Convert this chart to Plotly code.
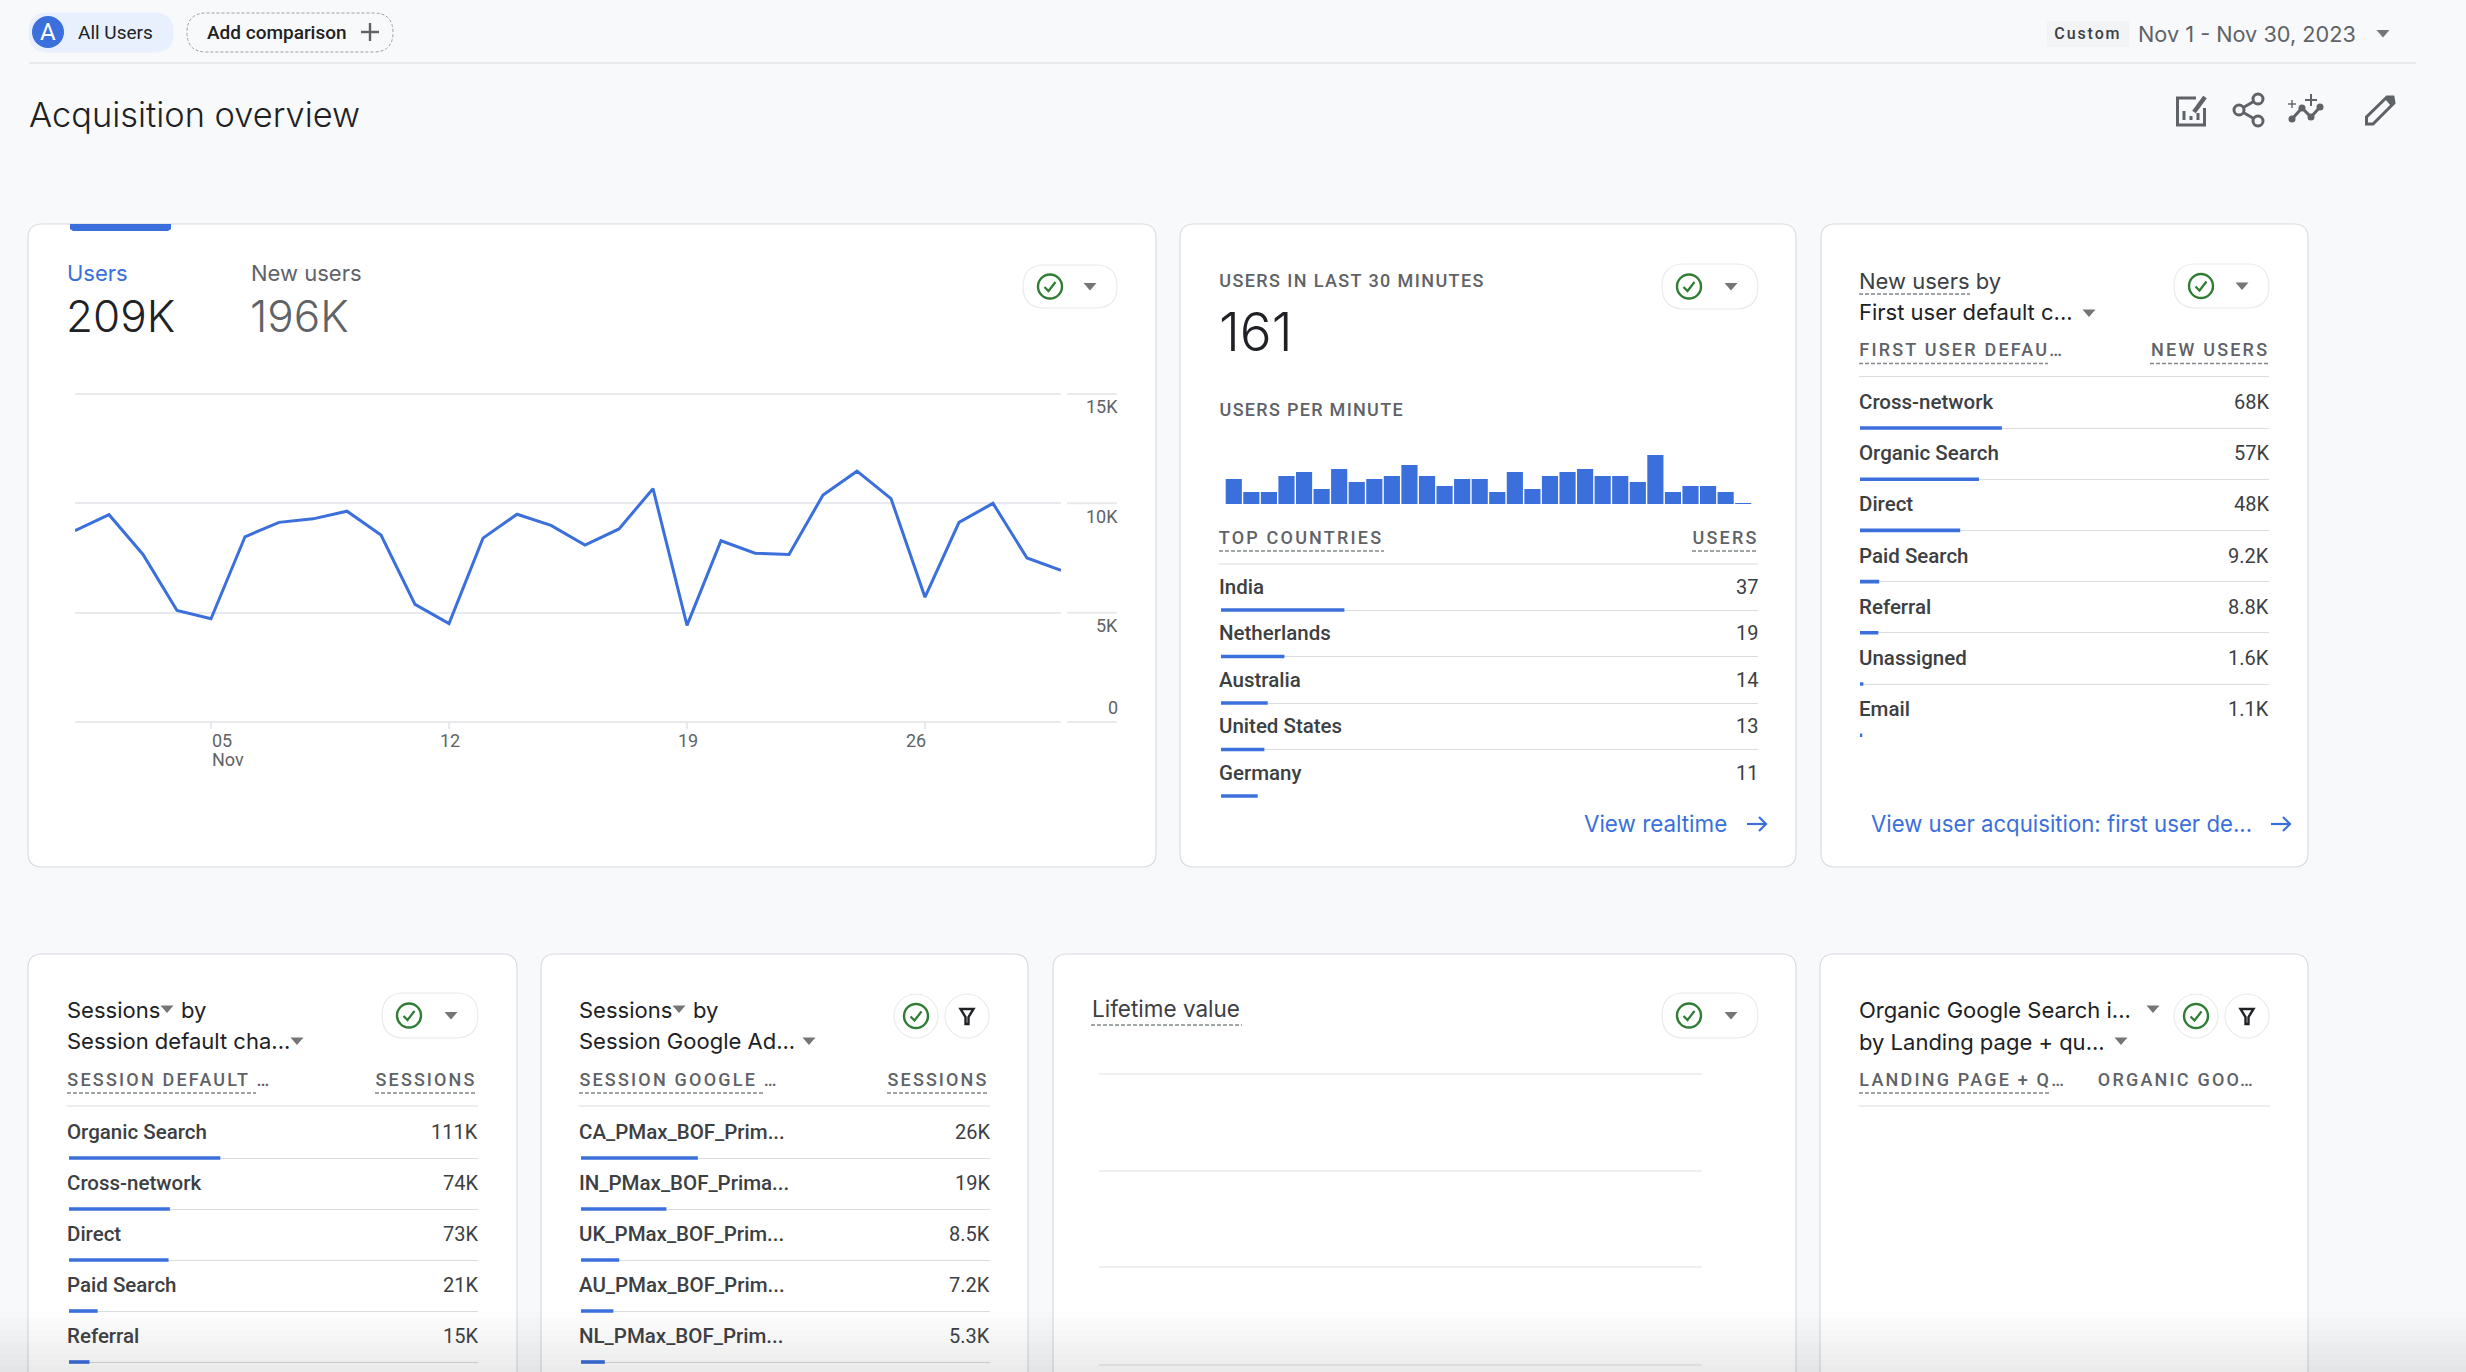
import plotly.graph_objects as go

W, H = 2466, 1372

# ---- data ----
days = list(range(1, 31))
users_daily = [8750, 9480, 7660, 5100, 4720, 8470, 9130, 9290, 9640, 8550,
               5380, 4500, 8410, 9500, 8990, 8090, 8830, 10670, 4420, 8290,
               7720, 7660, 10380, 11470, 10220, 5710, 9130, 10000, 7500, 6940]
users_ticks = [0, 5000, 10000, 15000]
users_tick_labels = ['0', '5K', '10K', '15K']
day_ticks = [5, 12, 19, 26]
day_tick_labels = ['05', '12', '19', '26']

minutes = list(range(30))
users_per_minute = [7.5, 3.6, 3.6, 8.4, 9.6, 4.5, 10.5, 6.6, 7.5, 8.4,
                    11.7, 8.4, 5.4, 7.5, 7.5, 3.6, 9.6, 4.5, 8.4, 9.6,
                    10.5, 8.4, 8.4, 6.6, 14.7, 3.6, 5.4, 5.4, 3.6, 0.3]

countries = ['India', 'Netherlands', 'Australia', 'United States', 'Germany']
country_users = [37, 19, 14, 13, 11]
country_total = 161

first_channels = ['Cross-network', 'Organic Search', 'Direct', 'Paid Search', 'Referral', 'Unassigned', 'Email']
first_channel_new_users = [68000, 57000, 48000, 9200, 8800, 1600, 1100]
new_users_total = 196000

session_channels = ['Organic Search', 'Cross-network', 'Direct', 'Paid Search', 'Referral']
session_channel_values = [111000, 74000, 73000, 21000, 15000]
sessions_total = 300000

campaigns = ['CA_PMax_BOF_Prim...', 'IN_PMax_BOF_Prima...', 'UK_PMax_BOF_Prim...', 'AU_PMax_BOF_Prim...', 'NL_PMax_BOF_Prim...']
campaign_sessions = [26000, 19000, 8500, 7200, 5300]
campaign_total = 91000

# ---- colours and fonts ----
BG = '#f8f9fb'
BLUE = '#3b6fdb'
GREY = '#5f6368'
DARK = '#202124'
BODY = '#3c4043'
LINE = '#dadce0'
GRID = '#e8eaed'
GREEN = '#2e7d32'
ROBOTO = 'Roboto, sans-serif'
SANS = 'Inter, sans-serif'
HEAD = 22

# letter spacing in px, applied to these texts once the page has drawn
TRACKED = {'Custom': 1.9, 'USERS IN LAST 30 MINUTES': 1.4, 'USERS PER MINUTE': 1.3,
           'TOP COUNTRIES': 2.2, 'USERS': 2.2, 'FIRST USER DEFAU…': 2.2, 'NEW USERS': 2.2,
           'SESSION DEFAULT …': 2.2, 'SESSIONS': 2.1, 'SESSION GOOGLE …': 2.2,
           'LANDING PAGE + Q…': 2.2, 'ORGANIC GOO…': 2.2}

shapes = []
annotations = []


def X(x):
    return x / W


def Y(y):
    return 1 - y / H


def text(s, x, y, size=18, color=BODY, anchor='left', family=ROBOTO, weight=400):
    # tracked text grows both ways from its middle, so push it back by half the growth
    if anchor == 'left':
        x += len(s) * TRACKED.get(s, 0) / 2
    annotations.append(dict(text=s, x=X(x), y=Y(y), xref='paper', yref='paper', showarrow=False,
                            xanchor=anchor, yanchor='middle', borderpad=0, borderwidth=0,
                            font=dict(size=size, color=color, family=family, weight=weight)))


def path(points, color=None, width=2, fill=None, close=False, dash=None, layer='below'):
    d = 'M' + ' L'.join(f'{X(px)},{Y(py)}' for px, py in points) + (' Z' if close else '')
    shapes.append(dict(type='path', path=d, xref='paper', yref='paper', layer=layer,
                       line=dict(color=color or 'rgba(0,0,0,0)', width=width, dash=dash),
                       fillcolor=fill or 'rgba(0,0,0,0)'))


def rounded(x0, y0, x1, y1, r, color=LINE, fill='white', width=1.2, dash=None):
    d = (f'M{X(x0 + r)},{Y(y0)} L{X(x1 - r)},{Y(y0)} Q{X(x1)},{Y(y0)} {X(x1)},{Y(y0 + r)} '
         f'L{X(x1)},{Y(y1 - r)} Q{X(x1)},{Y(y1)} {X(x1 - r)},{Y(y1)} L{X(x0 + r)},{Y(y1)} '
         f'Q{X(x0)},{Y(y1)} {X(x0)},{Y(y1 - r)} L{X(x0)},{Y(y0 + r)} Q{X(x0)},{Y(y0)} {X(x0 + r)},{Y(y0)} Z')
    shapes.append(dict(type='path', path=d, xref='paper', yref='paper', layer='below',
                       line=dict(color=color, width=width, dash=dash), fillcolor=fill))


def circle(cx, cy, r, color=None, fill=None, width=2):
    shapes.append(dict(type='circle', xref='paper', yref='paper', layer='below',
                       x0=X(cx - r), x1=X(cx + r), y0=Y(cy + r), y1=Y(cy - r),
                       line=dict(color=color or 'rgba(0,0,0,0)', width=width),
                       fillcolor=fill or 'rgba(0,0,0,0)'))


def hline(x0, x1, y, color=LINE, width=1.2, dash=None):
    path([(x0, y), (x1, y)], color=color, width=width, dash=dash)


def triangle(cx, cy, half=6.5, color='#757575'):
    path([(cx - half, cy - 3.5), (cx + half, cy - 3.5), (cx, cy + 4)], fill=color, close=True, width=0)


def check(cx, cy):
    circle(cx, cy, 12, color=GREEN, width=2.4)
    path([(cx - 5.5, cy + 0.5), (cx - 1.5, cy + 4.5), (cx + 5.5, cy - 4.5)], color=GREEN, width=2.2)


def status_pill(x0, x1, y0, y1):
    rounded(x0, y0, x1, y1, (y1 - y0) / 2, color=GRID)
    check(x0 + 27, (y0 + y1) / 2)
    triangle(x1 - 27, (y0 + y1) / 2)


def round_buttons(cx_check, cx_filter, cy):
    circle(cx_check, cy, 22, color=GRID, fill='white', width=1.2)
    check(cx_check, cy)
    circle(cx_filter, cy, 22, color=GRID, fill='white', width=1.2)
    path([(cx_filter - 6.5, cy - 7), (cx_filter + 6.5, cy - 7), (cx_filter + 1.5, cy + 1),
          (cx_filter + 1.5, cy + 8), (cx_filter - 1.5, cy + 8), (cx_filter - 1.5, cy + 1)],
         color=DARK, width=2.4, close=True)


def arrow(x0, x1, y):
    path([(x0, y), (x1, y)], color=BLUE, width=2.2)
    path([(x1 - 7, y - 7), (x1, y), (x1 - 7, y + 7)], color=BLUE, width=2.2)


def fmt_k(v):
    return f'{v / 1000:.0f}K' if v >= 10000 else f'{v / 1000:.1f}K'


fig = go.Figure()

# ---- page header ----
hline(29, 2416, 63, color=LINE)
rounded(29, 13, 173, 52, 19.5, color='#e8f0fe', fill='#e8f0fe')
circle(48, 32, 16, fill=BLUE, width=0)
text('A', 48, 32, size=24, color='white', anchor='center')
text('All Users', 77.5, 32.5, size=19, color=DARK)
rounded(187, 13, 393, 52, 19.5, color='#9aa0a6', fill='rgba(0,0,0,0)', width=1, dash='3px,2px')
text('Add comparison', 206.5, 32, size=19, color=DARK, weight=500)
hline(361, 379, 32, color=GREY, width=2.4)
path([(370, 23), (370, 41)], color=GREY, width=2.4)
shapes.append(dict(type='rect', xref='paper', yref='paper', layer='below', x0=X(2047), x1=X(2129),
                   y0=Y(47), y1=Y(21), fillcolor='#f1f3f4', line=dict(width=0)))
text('Custom', 2054, 33.5, size=16, color=BODY, weight=500)
text('Nov 1 - Nov 30, 2023', 2138, 34, size=21.7, color=GREY, family=SANS)
triangle(2383, 33.5)
text('Acquisition overview', 29, 115, size=34.4, color=DARK, family=SANS, weight=300)

# toolbar icons
path([(2196, 98), (2177.5, 98), (2177.5, 125), (2204.5, 125), (2204.5, 108)], color=GREY, width=3)
for bx, by in [(2184, 111), (2191, 116), (2198, 113)]:
    path([(bx, by), (bx, 120)], color=GREY, width=3)
path([(2194, 112), (2205, 97)], color=GREY, width=4.5)
path([(2258, 99), (2239, 110), (2258, 121)], color=GREY, width=3)
for cx, cy in [(2258, 99), (2239, 110), (2258, 121)]:
    circle(cx, cy, 5, color=GREY, fill=BG, width=3)
path([(2292, 119), (2302, 108), (2311, 117), (2320, 107)], color=GREY, width=3)
for cx, cy in [(2292, 119), (2302, 108), (2311, 117), (2320, 107)]:
    circle(cx, cy, 3.5, fill=GREY, width=0)
path([(2288, 104), (2296, 104)], color=GREY, width=1.4)
path([(2292, 100), (2292, 108)], color=GREY, width=1.4)
path([(2305, 100), (2317, 100)], color=GREY, width=2)
path([(2311, 94), (2311, 106)], color=GREY, width=2)
path([(2366.5, 124), (2366.5, 117), (2387, 97), (2393, 97), (2394, 103), (2373, 124)], color=GREY, width=3, close=True)
path([(2385, 99), (2390, 96), (2394, 100), (2391, 106)], fill=GREY, close=True, width=0)

# ---- cards ----
for x0, y0, x1, y1 in [(28, 224, 1156, 867), (1180, 224, 1796, 867), (1821, 224, 2308, 867),
                       (28, 954, 517, 1400), (541, 954, 1028, 1400), (1053, 954, 1796, 1400),
                       (1820, 954, 2308, 1400)]:
    rounded(x0, y0, x1, y1, 14)

# ---- users card ----
path([(70, 224), (171, 224), (171, 229), (168, 231), (73, 231), (70, 229)], fill=BLUE, close=True, width=0)
text('Users', 67, 273, size=HEAD, color=BLUE, family=SANS)
text('New users', 251, 273, size=HEAD, color=GREY, family=SANS)
text('209K', 65.5, 316, size=44, color=DARK, family=SANS, weight=300)
text('196K', 250, 316, size=44, color=GREY, family=SANS, weight=300)
status_pill(1023, 1117, 265, 308)

fig.add_trace(go.Scatter(x=days, y=users_daily, mode='lines', line=dict(color=BLUE, width=3),
                         xaxis='x', yaxis='y', showlegend=False))
# range runs a little past 0 and 15K, plotly drops gridlines that sit on the very edge
fig.update_layout(
    xaxis=dict(domain=[X(75), X(1061)], range=[1, 30], tickvals=day_ticks, ticks='outside', ticklen=6,
               tickcolor=GRID, tickwidth=1.5, showticklabels=False, showgrid=False, zeroline=False,
               anchor='free', position=Y(722)),
    yaxis=dict(domain=[Y(722 + 328 / 30), Y(394 - 328 / 30)], range=[-500, 15500], tickvals=users_ticks,
               showticklabels=False, gridcolor=GRID, gridwidth=2, zeroline=False, anchor='x'),
)
for value, label in zip(users_ticks, users_tick_labels):
    shapes.append(dict(type='line', xref='paper', yref='y', x0=X(1067), x1=X(1117), y0=value, y1=value,
                       layer='below', line=dict(color=GRID, width=2)))
    annotations.append(dict(text=label, xref='paper', yref='y', x=X(1118), y=value, showarrow=False,
                            xanchor='right', yanchor='middle', yshift=14 if value == 0 else -13,
                            borderwidth=0, borderpad=0, font=dict(size=18, color=GREY, family=ROBOTO)))
for day, label, anchor in zip(day_ticks, day_tick_labels, ['left', 'center', 'center', 'right']):
    annotations.append(dict(text=label, xref='x', yref='paper', x=day, y=Y(740), showarrow=False,
                            xanchor=anchor, yanchor='middle', borderwidth=0, borderpad=0, xshift=1,
                            font=dict(size=18, color=GREY, family=ROBOTO)))
annotations.append(dict(text='Nov', xref='x', yref='paper', x=day_ticks[0], y=Y(759), showarrow=False,
                        xanchor='left', yanchor='middle', borderwidth=0, borderpad=0, xshift=1,
                        font=dict(size=18, color=GREY, family=ROBOTO)))

# ---- realtime card ----
text('USERS IN LAST 30 MINUTES', 1219, 280, size=18, color=GREY, weight=500)
text('161', 1219, 332, size=53, color=DARK, family=SANS, weight=300)
status_pill(1662, 1758, 264, 309)
text('USERS PER MINUTE', 1219.5, 409, size=18, color=GREY, weight=500)
fig.add_trace(go.Bar(x=minutes, y=users_per_minute, marker=dict(color=BLUE, line=dict(width=0)),
                     xaxis='x2', yaxis='y2', showlegend=False))
fig.update_layout(
    bargap=0.08,
    xaxis2=dict(domain=[X(1225), X(1752)], range=[-0.5, 29.5], visible=False, anchor='y2'),
    yaxis2=dict(domain=[Y(504), Y(454)], range=[0, 15], visible=False, anchor='x2'),
)


def add_table(n, labels, values, shown, total, x0, x1, first_y, pitch, text_offset, last_line, label_x):
    # one small axis pair per table: the bars are each row's share of the total
    axis = '' if n == 1 else str(n)
    rows = list(range(len(labels)))
    fig.add_trace(go.Bar(x=values, y=rows, orientation='h', width=3.6 / pitch, marker=dict(color=BLUE, line=dict(width=0)),
                         xaxis=f'x{axis}', yaxis=f'y{axis}', showlegend=False))
    top = first_y - pitch / 2
    bottom = min(first_y + pitch * (len(labels) - 0.5), H)
    fig.update_layout(**{
        f'xaxis{axis}': dict(domain=[X(x0), X(x1)], range=[0, total], visible=False, anchor=f'y{axis}'),
        f'yaxis{axis}': dict(domain=[Y(bottom), Y(top)], range=[(bottom - first_y) / pitch, -0.5], anchor=f'x{axis}',
                             tickvals=rows if last_line else rows[:-1], showticklabels=False,
                             gridcolor=LINE, gridwidth=1.2, zeroline=False, showline=False, ticks=''),
    })
    for row, label, value in zip(rows, labels, shown):
        y = first_y + row * pitch - text_offset
        text(label, label_x, y, size=20.5, color=BODY, weight=500)
        text(value, x1, y, size=20, color=BODY, anchor='right')


def table_header(left, left_under, right, right_x, right_under, x0, x1, y):
    text(left, x0, y, size=18, color=GREY, weight=500)
    text(right, right_x, y, size=18, color=GREY, weight=500)
    hline(left_under[0], left_under[1], y + 14, color='#80868b', width=1.3, dash='4px,2px')
    if right_under:
        hline(right_under[0], right_under[1], y + 14, color='#80868b', width=1.3, dash='4px,2px')
    hline(x0, x1, y + 27)


table_header('TOP COUNTRIES', (1219, 1384), 'USERS', 1692, (1692, 1758), 1219, 1758, 537)
add_table(3, countries, country_users, [str(v) for v in country_users], country_total,
          1221, 1758, 610, 46.5, 23.5, False, 1219)
text('View realtime', 1584, 824, size=22.4, color=BLUE, family=SANS)
arrow(1747, 1766, 824)

# ---- new users card ----
text('New users by', 1859, 281, size=HEAD, color=BODY, family=SANS)
hline(1859, 1970, 294, color='#80868b', width=1.3, dash='4px,2px')
text('First user default c...', 1859, 312, size=HEAD, color=DARK, family=SANS)
triangle(2089, 313)
status_pill(2174, 2269, 264, 308)
table_header('FIRST USER DEFAU…', (1859, 2048), 'NEW USERS', 2151, (2150, 2269), 1859, 2269, 349.5)
add_table(4, first_channels, first_channel_new_users, [fmt_k(v) for v in first_channel_new_users], new_users_total,
          1860, 2269, 428, 51.2, 26, False, 1859)
text('View user acquisition: first user de...', 1871, 824, size=22.2, color=BLUE, family=SANS)
arrow(2271, 2290, 824)

# ---- sessions by channel card ----
text('Sessions', 67, 1010, size=HEAD, color=DARK, family=SANS)
triangle(167, 1009)
text('by', 181, 1010, size=HEAD, color=DARK, family=SANS)
text('Session default cha...', 67, 1041, size=HEAD, color=DARK, family=SANS)
triangle(297, 1041)
status_pill(382, 478, 993, 1038)
table_header('SESSION DEFAULT …', (67, 256), 'SESSIONS', 376, (375, 477), 67, 478, 1079)
add_table(5, session_channels, session_channel_values, [fmt_k(v) for v in session_channel_values], sessions_total,
          69, 478, 1158, 51, 26, True, 67)

# ---- sessions by campaign card ----
text('Sessions', 579, 1010, size=HEAD, color=DARK, family=SANS)
triangle(679, 1009)
text('by', 693, 1010, size=HEAD, color=DARK, family=SANS)
text('Session Google Ad...', 579, 1041, size=HEAD, color=DARK, family=SANS)
triangle(809, 1041)
round_buttons(916, 967, 1016)
table_header('SESSION GOOGLE …', (579, 764), 'SESSIONS', 888, (887, 989), 579, 990, 1079)
add_table(6, campaigns, campaign_sessions, [fmt_k(v) for v in campaign_sessions], campaign_total,
          581, 990, 1158, 51, 26, True, 579)

# ---- lifetime value card, no data loaded ----
text('Lifetime value', 1092, 1009, size=22.5, color=BODY, family=SANS)
hline(1091, 1242, 1025, color='#80868b', width=1.3, dash='4px,2px')
status_pill(1662, 1758, 993, 1038)
for gy in [1074, 1171, 1267, 1365]:
    hline(1099, 1702, gy, color=GRID, width=1.4)

# ---- landing page card ----
text('Organic Google Search i...', 1859, 1009.5, size=HEAD, color=DARK, family=SANS)
triangle(2153, 1009)
text('by Landing page + qu...', 1859, 1041.5, size=HEAD, color=DARK, family=SANS)
triangle(2121, 1041)
round_buttons(2196, 2247, 1016)
table_header('LANDING PAGE + Q…', (1859, 2051), 'ORGANIC GOO…', 2098, None, 1859, 2270, 1079)

# soft fade along the bottom edge of the page
for i in range(10):
    shapes.append(dict(type='rect', xref='paper', yref='paper', layer='above',
                       x0=0, x1=1, y0=0, y1=Y(1312 + i * 6), fillcolor='rgba(0,0,0,0.006)', line=dict(width=0)))

fig.update_layout(width=W, height=H, margin=dict(l=0, r=0, t=0, b=0), paper_bgcolor=BG, plot_bgcolor='rgba(0,0,0,0)',
                  showlegend=False, shapes=shapes, annotations=annotations, barmode='overlay',
                  font=dict(family=ROBOTO))

tracked_js = str(TRACKED)
post = ("document.body.style.margin='0';document.body.style.background='%s';"
        "var tracked=%s;"
        "document.querySelectorAll('.annotation-text').forEach(function(t){"
        "var s=tracked[t.textContent];if(s){t.style.letterSpacing=s+'px';}});") % (BG, tracked_js)
fig.write_html("out.html", config={'displayModeBar': False}, post_script=post)
